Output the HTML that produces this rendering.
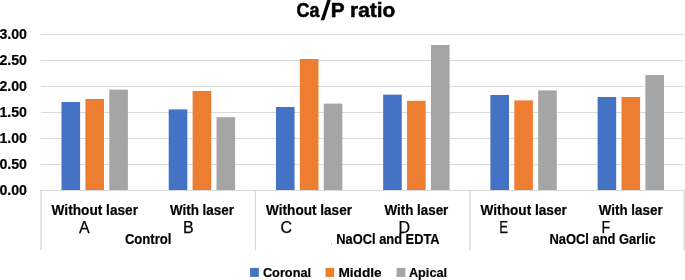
<!DOCTYPE html>
<html><head><meta charset="utf-8"><style>
html,body{margin:0;padding:0;background:#fff;width:685px;height:280px;overflow:hidden}
svg{display:block;will-change:transform}
text{font-family:"Liberation Sans",sans-serif;fill:#000}
text[font-weight=bold]{stroke:#000;stroke-width:0.2px}
</style></head><body>
<svg width="685" height="280" viewBox="0 0 685 280">
<rect width="685" height="280" fill="#fff"/>
<rect x="41.0" y="164.0" width="643.0" height="1" fill="#D9D9D9"/>
<rect x="41.0" y="138.0" width="643.0" height="1" fill="#D9D9D9"/>
<rect x="41.0" y="112.0" width="643.0" height="1" fill="#D9D9D9"/>
<rect x="41.0" y="86.0" width="643.0" height="1" fill="#D9D9D9"/>
<rect x="41.0" y="60.0" width="643.0" height="1" fill="#D9D9D9"/>
<rect x="41.0" y="34.0" width="643.0" height="1" fill="#D9D9D9"/>
<rect x="41.0" y="190" width="643.0" height="1" fill="#D9D9D9"/>
<rect x="40.3" y="190" width="1.4" height="60" fill="#D9D9D9"/>
<rect x="254.95" y="190" width="1.0" height="60" fill="#D9D9D9"/>
<rect x="469.2" y="190" width="1.4" height="60" fill="#D9D9D9"/>
<rect x="683.6" y="190" width="1.4" height="60" fill="#D9D9D9"/>
<rect x="61.50" y="102" width="18.6" height="88.00" fill="#4472C4"/>
<rect x="85.40" y="99" width="18.6" height="91.00" fill="#ED7D31"/>
<rect x="109.30" y="89.6" width="18.6" height="100.40" fill="#A5A5A5"/>
<rect x="168.72" y="109.4" width="18.6" height="80.60" fill="#4472C4"/>
<rect x="192.62" y="91" width="18.6" height="99.00" fill="#ED7D31"/>
<rect x="216.52" y="117.2" width="18.6" height="72.80" fill="#A5A5A5"/>
<rect x="275.94" y="107" width="18.6" height="83.00" fill="#4472C4"/>
<rect x="299.84" y="59" width="18.6" height="131.00" fill="#ED7D31"/>
<rect x="323.74" y="103.6" width="18.6" height="86.40" fill="#A5A5A5"/>
<rect x="383.16" y="94.6" width="18.6" height="95.40" fill="#4472C4"/>
<rect x="407.06" y="100.8" width="18.6" height="89.20" fill="#ED7D31"/>
<rect x="430.96" y="45" width="18.6" height="145.00" fill="#A5A5A5"/>
<rect x="490.38" y="95" width="18.6" height="95.00" fill="#4472C4"/>
<rect x="514.28" y="100.4" width="18.6" height="89.60" fill="#ED7D31"/>
<rect x="538.18" y="90.4" width="18.6" height="99.60" fill="#A5A5A5"/>
<rect x="597.60" y="97" width="18.6" height="93.00" fill="#4472C4"/>
<rect x="621.50" y="97" width="18.6" height="93.00" fill="#ED7D31"/>
<rect x="645.40" y="75" width="18.6" height="115.00" fill="#A5A5A5"/>
<polygon points="327.5,-0.5 331.0,-0.5 324.2,20.2 320.7,20.2" fill="#000"/>
<rect x="331" y="243" width="1" height="1" fill="#999"/>
<rect x="250.1" y="267.9" width="8.7" height="9" fill="#4472C4"/>
<rect x="325.5" y="267.9" width="8.7" height="9" fill="#ED7D31"/>
<rect x="396.6" y="267.9" width="8.7" height="9" fill="#A5A5A5"/>
<text x="296.6" y="16.8" font-size="20.5" font-weight="bold" text-anchor="start" textLength="23.0" lengthAdjust="spacingAndGlyphs" style="stroke:#000;stroke-width:0.5px">Ca</text>
<text x="330.8" y="16.8" font-size="20.5" font-weight="bold" text-anchor="start" textLength="64.5" lengthAdjust="spacingAndGlyphs" style="stroke:#000;stroke-width:0.5px">P ratio</text>
<text x="-0.6" y="38.9" font-size="14.2" font-weight="bold" text-anchor="start" textLength="27.6" lengthAdjust="spacingAndGlyphs">3.00</text>
<text x="-0.6" y="64.9" font-size="14.2" font-weight="bold" text-anchor="start" textLength="27.6" lengthAdjust="spacingAndGlyphs">2.50</text>
<text x="-0.6" y="90.9" font-size="14.2" font-weight="bold" text-anchor="start" textLength="27.6" lengthAdjust="spacingAndGlyphs">2.00</text>
<text x="-0.6" y="116.9" font-size="14.2" font-weight="bold" text-anchor="start" textLength="27.6" lengthAdjust="spacingAndGlyphs">1.50</text>
<text x="-0.6" y="142.9" font-size="14.2" font-weight="bold" text-anchor="start" textLength="27.6" lengthAdjust="spacingAndGlyphs">1.00</text>
<text x="-0.6" y="168.9" font-size="14.2" font-weight="bold" text-anchor="start" textLength="27.6" lengthAdjust="spacingAndGlyphs">0.50</text>
<text x="-0.6" y="194.9" font-size="14.2" font-weight="bold" text-anchor="start" textLength="27.6" lengthAdjust="spacingAndGlyphs">0.00</text>
<text x="51.6" y="215" font-size="14" font-weight="bold" text-anchor="start" textLength="86.4" lengthAdjust="spacingAndGlyphs">Without laser</text>
<text x="266.1" y="215" font-size="14" font-weight="bold" text-anchor="start" textLength="85.9" lengthAdjust="spacingAndGlyphs">Without laser</text>
<text x="480.6" y="215" font-size="14" font-weight="bold" text-anchor="start" textLength="86.2" lengthAdjust="spacingAndGlyphs">Without laser</text>
<text x="169.9" y="215" font-size="14" font-weight="bold" text-anchor="start" textLength="64.1" lengthAdjust="spacingAndGlyphs">With laser</text>
<text x="384.5" y="215" font-size="14" font-weight="bold" text-anchor="start" textLength="63.8" lengthAdjust="spacingAndGlyphs">With laser</text>
<text x="598.8" y="215" font-size="14" font-weight="bold" text-anchor="start" textLength="63.8" lengthAdjust="spacingAndGlyphs">With laser</text>
<text x="79" y="232.6" font-size="16" font-weight="normal" text-anchor="start" style="stroke:#000;stroke-width:0.25px">A</text>
<text x="183.0" y="232.6" font-size="16" font-weight="normal" text-anchor="start" style="stroke:#000;stroke-width:0.25px">B</text>
<text x="280.4" y="232.6" font-size="16" font-weight="normal" text-anchor="start" style="stroke:#000;stroke-width:0.25px">C</text>
<text x="398.4" y="232.6" font-size="16" font-weight="normal" text-anchor="start" style="stroke:#000;stroke-width:0.25px">D</text>
<text x="499.3" y="232.6" font-size="16" font-weight="normal" text-anchor="start" textLength="8.8" lengthAdjust="spacingAndGlyphs" style="stroke:#000;stroke-width:0.25px">E</text>
<text x="601.4" y="232.6" font-size="16" font-weight="normal" text-anchor="start" textLength="8.7" lengthAdjust="spacingAndGlyphs" style="stroke:#000;stroke-width:0.25px">F</text>
<text x="124.9" y="244.4" font-size="14" font-weight="bold" text-anchor="start" textLength="46.6" lengthAdjust="spacingAndGlyphs">Control</text>
<text x="336.3" y="244.2" font-size="14" font-weight="bold" text-anchor="start" textLength="103.3" lengthAdjust="spacingAndGlyphs">NaOCl and EDTA</text>
<text x="549.4" y="244.2" font-size="14" font-weight="bold" text-anchor="start" textLength="106.3" lengthAdjust="spacingAndGlyphs">NaOCl and Garlic</text>
<text x="262.9" y="276.6" font-size="13.5" font-weight="bold" text-anchor="start" textLength="48.2" lengthAdjust="spacingAndGlyphs">Coronal</text>
<text x="338.4" y="276.6" font-size="13.5" font-weight="bold" text-anchor="start" textLength="43.3" lengthAdjust="spacingAndGlyphs">Middle</text>
<text x="408.9" y="276.6" font-size="13.5" font-weight="bold" text-anchor="start" textLength="38.2" lengthAdjust="spacingAndGlyphs">Apical</text>
</svg>
</body></html>
